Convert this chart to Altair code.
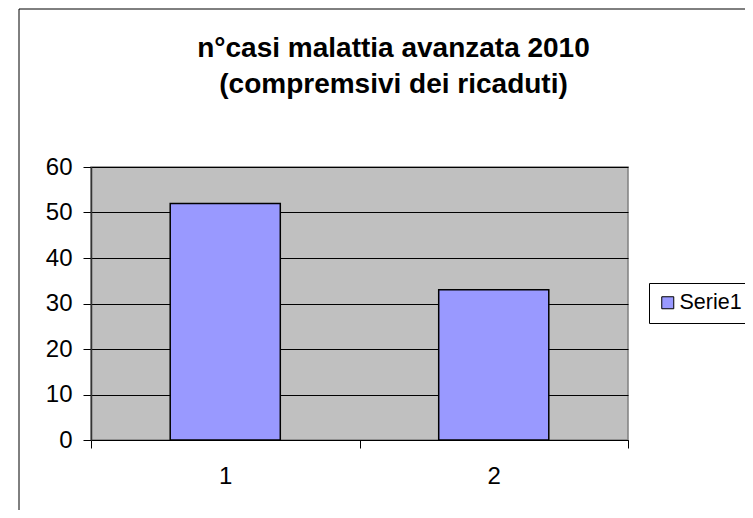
import altair as alt
import pandas as pd

categories = ["1", "2"]
values = [52, 33]
series = ["Serie1", "Serie1"]

df = pd.DataFrame({"cat": categories, "val": values, "serie": series})

FONT = "Liberation Sans"

one = pd.DataFrame({"a": [0]})
frame_left = alt.Chart(one).mark_rule(color="black", strokeWidth=1).encode(
    x=alt.value(-72), y=alt.value(-158), y2=alt.value(400)
)
frame_top = alt.Chart(one).mark_rule(color="black", strokeWidth=1).encode(
    x=alt.value(-72), x2=alt.value(700), y=alt.value(-158)
)

bars = alt.Chart(df).mark_bar(
    stroke="black", strokeWidth=1.5, width=alt.RelativeBandSize(0.41)
).encode(
    x=alt.X("cat:N", sort=categories, title=None,
            scale=alt.Scale(paddingInner=0, paddingOuter=0),
            axis=alt.Axis(labelAngle=0, tickBand="extent", domainColor="black",
                          tickColor="black", tickSize=8, labelFontSize=24,
                          labelFont=FONT, labelColor="black", labelPadding=16,
                          grid=False)),
    y=alt.Y("val:Q", title=None,
            scale=alt.Scale(domain=[0, 60], nice=False),
            axis=alt.Axis(values=[0, 10, 20, 30, 40, 50, 60], gridColor="black",
                          gridOpacity=1, domainColor="#333333", domainWidth=1.5,
                          tickColor="black", tickSize=8, labelFontSize=24,
                          labelFont=FONT, labelColor="black", labelPadding=11)),
    color=alt.Color("serie:N", title=None,
                    scale=alt.Scale(range=["#9999FF"]),
                    legend=alt.Legend(orient="none", legendX=558, legendY=116,
                                      symbolType="square", symbolSize=144,
                                      symbolStrokeColor="black", symbolStrokeWidth=1,
                                      symbolOffset=-1, labelOffset=1,
                                      labelFontSize=21.5, labelFont=FONT,
                                      labelColor="black", strokeColor="black",
                                      fillColor="white", padding=9)),
)

chart = alt.layer(frame_left, frame_top, bars).properties(
    width=537, height=273,
    background="white",
    autosize=alt.AutoSizeParams(type="none"),
    padding={"left": 83, "top": 159, "right": 117, "bottom": 70},
    title=alt.TitleParams(
        ["n°casi malattia avanzata 2010", "(compremsivi dei ricaduti)"],
        fontSize=28, font=FONT, fontWeight="bold", color="black",
        anchor="middle", frame="group", dx=34, lineHeight=36, offset=-90,
    ),
).configure_view(fill="#C0C0C0", stroke="#808080", strokeWidth=1.5)

chart.save("out.html", embed_options={"renderer": "svg", "actions": False})
